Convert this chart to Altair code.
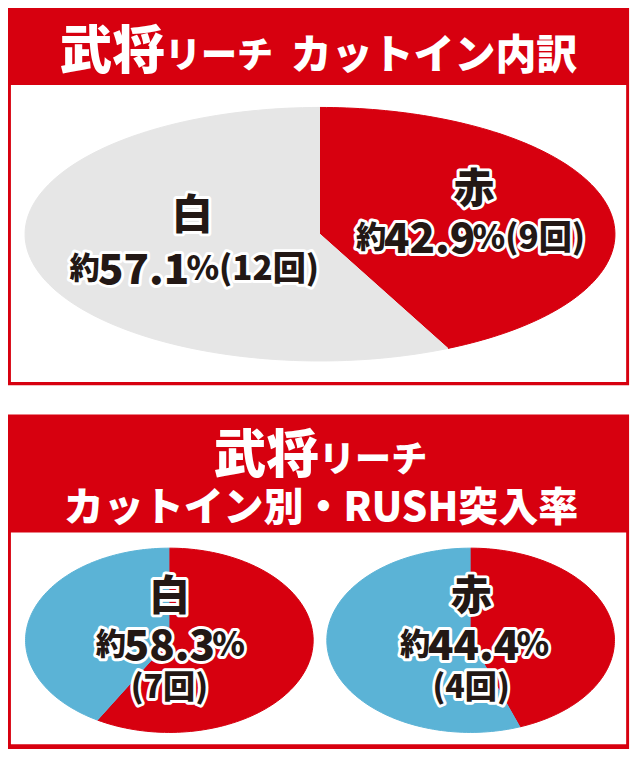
import altair as alt
import pandas as pd

# ---------------- data ----------------
cutin_kind = ["赤", "白"]          # clockwise from 12 o'clock
cutin_count = [9, 12]
cutin_pct = [42.9, 57.1]

rush_kind = ["白", "赤"]
rush_in = [7, 4]                    # RUSH entered
rush_out = [5, 5]                   # RUSH not entered
rush_pct = [58.3, 44.4]

title1 = ["武将", "リーチ", "カットイン内訳"]
title2 = ["武将", "リーチ", "カットイン別・RUSH突入率"]

# ---------------- style / layout ----------------
S = 0.975
W, H = 640 * S, 760 * S
RED = "#D7000F"
GREY = "#E6E6E6"
BLUE = "#5BB3D6"
INK = "#231815"
WHITE = "#FFFFFF"
FONT = "Noto Sans CJK JP"
N = 120

rows = []
for i, (k, c, p) in enumerate(zip(cutin_kind, cutin_count, cutin_pct)):
    rows.append(dict(pie="cut", sid="cut" + k, kind=k, label=k, value=c, ord=i, pct=p))
for k, a, b, p in zip(rush_kind, rush_in, rush_out, rush_pct):
    rows.append(dict(pie="rush" + k, sid="rush" + k + "in", kind="突入", label=k, value=a, ord=0, pct=p))
    rows.append(dict(pie="rush" + k, sid="rush" + k + "out", kind="非突入", label=k, value=b, ord=1))
df = pd.DataFrame(rows)

GEOM = {
    "cut": (320, 232, 302.5, 130),
    "rush白": (165.5, 648.5, 147.5, 94.5),
    "rush赤": (474.5, 648.5, 147.5, 94.5),
}

XS = alt.Scale(domain=[0, 640], range=[0, W], nice=False, zero=False)
YS = alt.Scale(domain=[0, 760], range=[0, H], nice=False, zero=False)
CS = alt.Scale(domain=["赤", "白", "突入", "非突入"], range=[RED, GREY, RED, BLUE])

base = alt.Chart(df)


def cum(pie):
    return (base.transform_filter(alt.datum.pie == pie)
            .transform_window(cum="sum(value)", sort=[alt.SortField("ord")], frame=[None, 0])
            .transform_joinaggregate(total="sum(value)"))


def slices(pie):
    cx, cy, rx, ry = GEOM[pie]
    return (cum(pie)
            .transform_calculate(steps=f"sequence(-1, {N + 1})")
            .transform_flatten(["steps"], as_=["step"])
            .transform_calculate(f=f"(datum.cum - datum.value + datum.value * max(datum.step, 0) / {N}) / datum.total")
            .transform_calculate(px=f"datum.step < 0 ? {cx} : {cx} + {rx} * sin(2 * PI * datum.f)")
            .transform_calculate(py=f"datum.step < 0 ? {cy} : {cy} - {ry} * cos(2 * PI * datum.f)")
            .mark_line(strokeWidth=1, interpolate="linear")
            .encode(x=alt.X("px:Q", scale=XS, axis=None),
                    y=alt.Y("py:Q", scale=YS, axis=None),
                    fill=alt.Fill("kind:N", scale=CS, legend=None),
                    stroke=alt.Stroke("kind:N", scale=CS, legend=None),
                    detail="sid:N",
                    order=alt.Order("step:Q")))


def anchor(pie, sid, R=None):
    cx, cy, rx, ry = GEOM[pie]
    c = cum(pie).transform_filter(alt.datum.sid == sid)
    if R is not None:
        c = (c.transform_calculate(m="(datum.cum - datum.value / 2) / datum.total")
              .transform_calculate(ax=f"{cx} + {R * rx} * sin(2 * PI * datum.m)")
              .transform_calculate(ay=f"{cy} - {R * ry} * cos(2 * PI * datum.m)"))
    else:
        c = c.transform_calculate(ax=f"{cx}", ay=f"{cy}")
    return c


outlines, fills = [], []


def piece(src, expr, size, dx, dy, align):
    c = src.transform_calculate(t=expr)
    common = dict(font=FONT, fontWeight=900, fontSize=size * S, align=align,
                  baseline="middle", dx=dx * S, dy=(dy + 0.08 * size) * S)
    enc = dict(x=alt.X("ax:Q", scale=XS, axis=None), y=alt.Y("ay:Q", scale=YS, axis=None), text="t:N")
    outlines.append(c.mark_text(**common, fill=WHITE, stroke=WHITE, strokeWidth=6 * S,
                                strokeJoin="round").encode(**enc))
    fills.append(c.mark_text(**common, fill=INK).encode(**enc))


NUM = "format(datum.pct, '.1f')"
NS = 43   # number font size
KS = 42   # kind (白 / 赤) font size

# pie 1 labels (at slice mid-angle)
a = anchor("cut", "cut赤", 0.49)
piece(a, "datum.label", KS, 13.5, -33.8, "center")
piece(a, "'約'", 31, -76.5, 16.2, "right")
piece(a, NUM, NS, -32, 16.2, "center")
piece(a, "'%(' + datum.value + '回)'", 34, 12, 16.2, "left")

a = anchor("cut", "cut白", 0.49)
piece(a, "datum.label", KS, 13.5, -35.2, "center")
piece(a, "'約'", 31, -81.5, 19.8, "right")
piece(a, NUM, NS, -36.5, 19.8, "center")
piece(a, "'%(' + datum.value + '回)'", 34, 7.5, 19.8, "left")

# pie 2 labels (centred)
a = anchor("rush白", "rush白in")
piece(a, "datum.label", KS, 0, -46.5, "center")
piece(a, "'約'", 31, -44.5, 3.5, "right")
piece(a, NUM, NS, 0, 3.5, "center")
piece(a, "'%'", 34, 44, 3.5, "left")
piece(a, "'(' + datum.value + '回)'", 33, 0, 46.5, "center")

a = anchor("rush赤", "rush赤in")
piece(a, "datum.label", KS, 0.5, -46.5, "center")
piece(a, "'約'", 31, -41.5, 3.5, "right")
piece(a, NUM, NS, 3, 3.5, "center")
piece(a, "'%'", 34, 47, 3.5, "left")
piece(a, "'(' + datum.value + '回)'", 33, 0.5, 46.5, "center")

one = pd.DataFrame({"o": [0]})


def rect(x1, y1, x2, y2, color):
    return alt.Chart(one).mark_rect(color=color, strokeWidth=0).encode(
        x=alt.value(x1 * S), x2=alt.value(x2 * S), y=alt.value(y1 * S), y2=alt.value(y2 * S))


def ttl(text, size, x, y, align):
    return alt.Chart(one).mark_text(text=text, font=FONT, fontWeight=900, fontSize=size * S,
                                    color=WHITE, align=align, baseline="alphabetic").encode(
        x=alt.value(x * S), y=alt.value(y * S))


deco = [
    rect(0, 0, 637, 387, RED),
    rect(3, 79, 634, 383.5, WHITE),
    rect(0, 417, 637, 760, RED),
    rect(3, 538, 634, 755, WHITE),
]
pies = [slices(p) for p in GEOM]
titles = [
    ttl(title1[0], 54, 161, 63, "right"),
    ttl(title1[1], 37, 161, 62, "left"),
    ttl(title1[2], 42, 290, 63, "left"),
    ttl(title2[0], 54, 319, 477, "right"),
    ttl(title2[1], 37, 319, 476, "left"),
    ttl(title2[2], 41, 321, 526, "center"),
]

chart = alt.layer(*deco, *pies, *outlines, *fills, *titles).properties(
    width=W, height=H, padding=0, autosize="none", background=WHITE
).configure_view(strokeWidth=0)

chart.save("out.html", embed_options={"renderer": "svg", "actions": False})
